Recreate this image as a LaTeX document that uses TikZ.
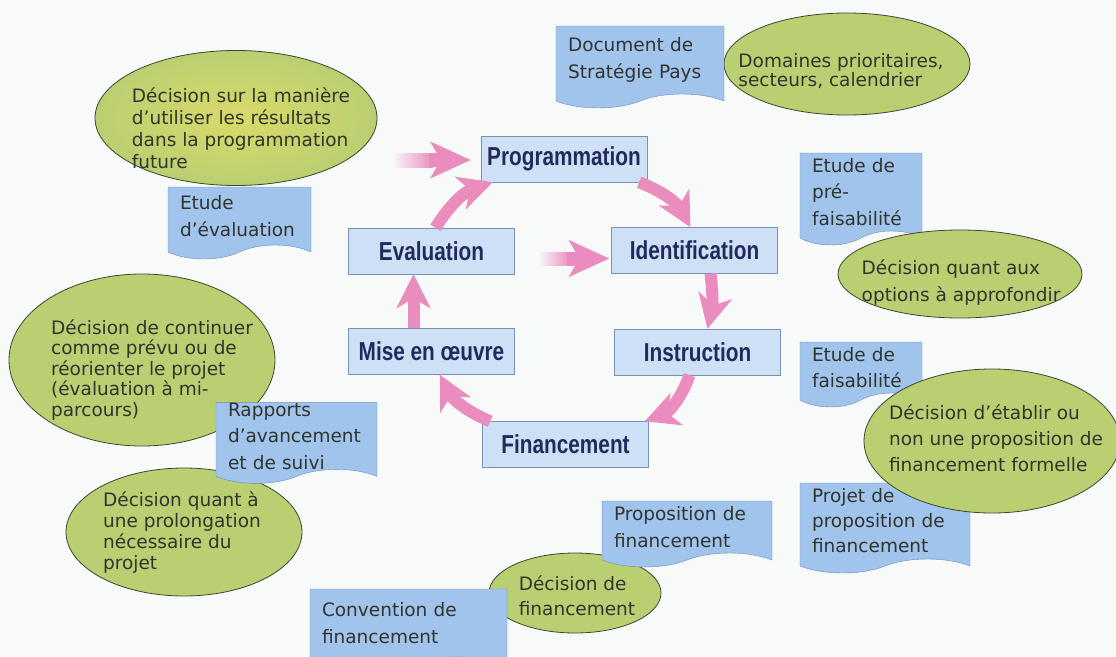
\documentclass[tikz,border=0pt]{standalone}
\usepackage{fontspec}
\setmainfont{DejaVu Sans}
\newfontfamily\stagefont[FakeStretch=0.8]{Liberation Sans}
\usetikzlibrary{shapes.geometric,shapes.symbols,arrows.meta,calc}

\definecolor{pagebg}{RGB}{248,250,249}
\definecolor{stagefill}{RGB}{206,224,246}
\definecolor{stageline}{RGB}{122,146,182}
\definecolor{stagetext}{RGB}{34,42,92}
\definecolor{docfill}{RGB}{160,196,236}
\definecolor{docline}{RGB}{110,140,180}
\definecolor{ovalgreen}{RGB}{186,207,114}
\definecolor{ovalyellow}{RGB}{218,218,104}
\definecolor{ovalline}{RGB}{60,72,44}
\definecolor{bodytext}{RGB}{50,52,46}
\definecolor{arrowpink}{RGB}{234,140,190}

\tikzset{
  stage/.style={draw=stageline, fill=stagefill, text=stagetext, minimum width=166pt,
    minimum height=46pt, inner sep=0pt, font=\stagefont\bfseries\fontsize{26}{30}\selectfont},
  docbox/.style={tape, tape bend top=none, tape bend bottom=in and out, tape bend height=14pt,
    draw=docline, fill=docfill, text=bodytext, inner xsep=12pt, inner ysep=0pt, align=left,
    font=\fontsize{18.5}{26.5}\selectfont},
  oval/.style={ellipse, draw=ovalline, line width=0.8pt, fill=ovalgreen, inner sep=0pt},
  ovaltext/.style={text=bodytext, inner sep=0pt, align=left},
  cyclearrow/.style={draw=arrowpink, line width=12pt, -{Stealth[length=34pt,width=34pt,inset=10pt]}},
  headarrow/.style={draw=arrowpink, line width=14pt, -{Stealth[length=40pt,width=36pt,inset=10pt]}},
}

\begin{document}
\begin{tikzpicture}[x=1pt,y=-1pt]
  \clip (0,0) rectangle (1116,656);
  \fill[pagebg] (0,0) rectangle (1116,656);

  % cycle of stages
  \node[stage] (prog) at (564,159) {Programmation};
  \node[stage] (ident) at (694.5,250.5) {Identification};
  \node[stage] (instr) at (697.5,352) {Instruction};
  \node[stage] (fin) at (565.5,444.5) {Financement};
  \node[stage] (mise) at (431.5,351.5) {Mise en œuvre};
  \node[stage] (eval) at (431.5,251) {Evaluation};

  \draw[cyclearrow] ($(prog.south east)+(-8,0)$) to[bend left=20] ($(ident.north)+(-4,0)$);
  \draw[cyclearrow] ($(ident.south)+(16,0)$) to[bend left=10] ($(instr.north)+(10,0)$);
  \draw[cyclearrow] ($(instr.south)+(-8,0)$) to[bend left=25] ($(fin.north east)+(-4,0)$);
  \draw[cyclearrow] ($(fin.north west)+(8,0)$) to[bend left=20] ($(mise.south east)+(-75,0)$);
  \draw[cyclearrow] ($(mise.north)+(-18,0)$) -- ($(eval.south)+(-18,0)$);
  \draw[cyclearrow] ($(eval.north)+(4,0)$) to[bend left=20] ($(prog.south west)+(12,0)$);

  % fading feed arrows
  \coordinate (feedin) at (392,160);
  \shade[left color=pagebg, right color=arrowpink] ($(feedin)+(0,-7)$) rectangle ($(prog.west)+(-48,8)$);
  \draw[headarrow] ($(prog.west)+(-52,1)$) -- ($(prog.west)+(-10,1)$);
  \shade[left color=pagebg, right color=arrowpink] ($(eval.east)+(23,1)$) rectangle ($(ident.west)+(-40,15)$);
  \draw[headarrow] ($(ident.west)+(-44,8)$) -- ($(ident.west)+(-2,8)$);

  % decisions behind the documents
  \node[oval, minimum width=246pt, minimum height=102pt] (domaines) at (847,64) {};
  \node[ovaltext, font=\fontsize{18.5}{19}\selectfont] (domainesTxt) at (841,71)
    {Domaines prioritaires,\\secteurs, calendrier};
  \node[oval, minimum width=266pt, minimum height=172pt] (continuer) at (142,360) {};
  \node[ovaltext, font=\fontsize{18.5}{20.5}\selectfont] (continuerTxt) at (152,370)
    {Décision de continuer\\comme prévu ou de\\réorienter le projet\\(évaluation à mi-\\parcours)};
  \node[oval, minimum width=236pt, minimum height=128pt] (prolong) at (184,532) {};
  \node[ovaltext, font=\fontsize{18.5}{21}\selectfont] (prolongTxt) at (182,533)
    {Décision quant à\\une prolongation\\nécessaire du\\projet};
  \node[oval, minimum width=172pt, minimum height=80pt] (decfin) at (575,593) {};
  \node[ovaltext, font=\fontsize{18.5}{25}\selectfont] (decfinTxt) at (577,596)
    {Décision de\\financement};

  % documents
  \node[docbox, text width=144pt, minimum width=168pt, minimum height=82pt]
    (strat) at (640,60) {Document de\\Stratégie Pays};
  \node[docbox, text width=119pt, minimum width=143pt, minimum height=72pt]
    (evaldoc) at (239.5,216) {Etude\\d’évaluation};
  \node[docbox, text width=98pt, minimum width=122pt, minimum height=92pt]
    (prefais) at (861,192) {Etude de\\pré-\\faisabilité};
  \node[docbox, text width=98pt, minimum width=122pt, minimum height=65pt]
    (fais) at (861,367.5) {Etude de\\faisabilité};
  \node[docbox, text width=137pt, minimum width=161pt, minimum height=80pt]
    (rapports) at (296.5,436) {Rapports\\d’avancement\\et de suivi};
  \node[docbox, text width=146pt, minimum width=170pt, minimum height=90pt]
    (projdoc) at (885,521) {};
  \node[docbox, text width=146pt, minimum width=170pt, minimum height=66pt]
    (propdoc) at (687,527) {Proposition de\\financement};
  \node[docbox, text width=173pt, minimum width=197pt, minimum height=82pt]
    (convdoc) at (408.5,623) {Convention de\\financement};

  % decisions in front of the documents
  \node[oval, minimum width=282pt, minimum height=135pt, inner color=ovalyellow, outer color=ovalgreen]
    (maniere) at (236,118) {};
  \node[ovaltext, font=\fontsize{18.5}{22}\selectfont] (maniereTxt) at (241,128)
    {Décision sur la manière\\d’utiliser les résultats\\dans la programmation\\future};
  \node[oval, minimum width=244pt, minimum height=88pt] (options) at (960,274) {};
  \node[ovaltext, font=\fontsize{18.5}{27}\selectfont] (optionsTxt) at (961,283)
    {Décision quant aux\\options à approfondir};
  \node[oval, minimum width=256pt, minimum height=144pt] (etablir) at (992,441) {};
  \node[ovaltext, font=\fontsize{18.5}{26}\selectfont] (etablirTxt) at (996,438)
    {Décision d’établir ou\\non une proposition de\\financement formelle};

  \node[text=bodytext, text width=146pt, align=left, font=\fontsize{18.5}{25}\selectfont]
    (projtxt) at (projdoc.center) {Projet de\\proposition de\\financement};
\end{tikzpicture}
\end{document}
